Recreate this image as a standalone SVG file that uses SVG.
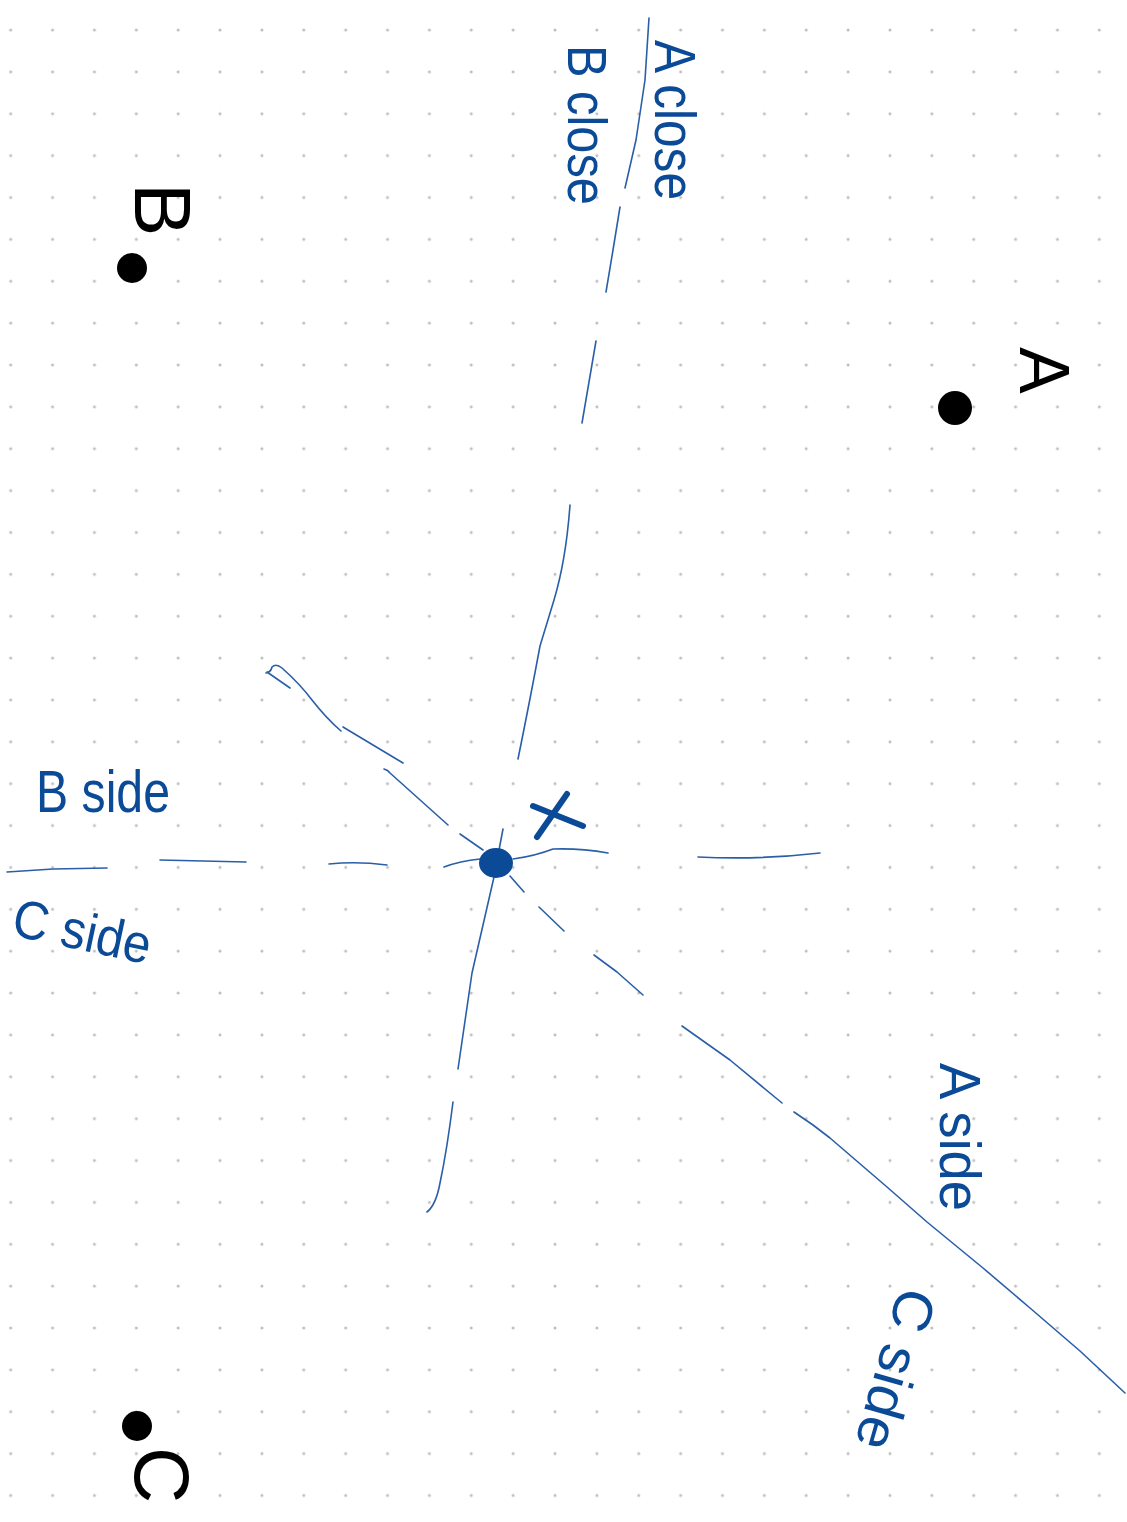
<svg xmlns="http://www.w3.org/2000/svg" width="1127" height="1522" viewBox="0 0 1127 1522">
<style>
.ln{fill:none;stroke:#2a5fa8;stroke-width:1.6;stroke-linecap:round;stroke-linejoin:round}
.bt{font-family:"Liberation Sans",Arial,sans-serif;fill:#0b4a97}
.kt{font-family:"Liberation Sans",Arial,sans-serif;fill:#000}
.mk{stroke:#0b4a97;stroke-width:6;stroke-linecap:round}
</style>
<defs>
<pattern id="grid" patternUnits="userSpaceOnUse" x="-10.235" y="9.065" width="41.87" height="41.87">
<circle cx="20.935" cy="20.935" r="1.5" fill="#bdbdbd"/>
</pattern>
</defs>
<rect width="1127" height="1522" fill="#fff"/>
<rect width="1127" height="1522" fill="url(#grid)"/>
<g id="connectors">
<path class="ln" d="M649,18 L645,80 L636,140 L625,188 M620,207 L613,250 L606,292 M596,341 L589,382 L582,423 M570,505 Q566,560 554,600 L540,646 Q530,700 518,759 M503,829 L499,850 M494,877 L472,973 L458,1069 M453,1102 Q447,1150 440,1183 Q436,1205 427,1212"/>
<path class="ln" d="M7,872 L53,869 L107,868 M160,860 L246,862 M329,864 Q357,861 387,865 M444,867 Q460,861 480,859 M513,859 Q535,856 553,849 Q580,848 608,853 M698,857 Q760,860 820,853"/>
<path class="ln" d="M290,688 L267,672 M266,673 Q271,672 272,667 Q276,663 282,668 Q300,684 312,700 Q326,718 341,731 M343,727 L403,763 M384,769 Q388,770 390,773 L448,825 M460,834 L483,850 M510,876 L524,892 M539,907 L564,931 M594,955 L617,972 L643,995 M682,1026 L730,1060 L782,1103 M794,1112 L813,1125 L830,1138 L887,1187 L927,1222 L983,1268 L1030,1308 L1080,1351 L1125,1393"/>
</g>
<g id="node-A">
<circle cx="955" cy="408" r="17" fill="#000"/>
<text class="kt" font-size="70" transform="translate(1020,347) rotate(90)">A</text>
</g>
<g id="node-B">
<circle cx="132" cy="268" r="15" fill="#000"/>
<text class="kt" font-size="80" transform="translate(135,183) rotate(90)">B</text>
</g>
<g id="node-C">
<circle cx="137" cy="1426" r="15" fill="#000"/>
<text class="kt" font-size="78" transform="translate(135,1447) rotate(90)">C</text>
</g>
<g id="node-center">
<ellipse cx="496" cy="863" rx="17" ry="15" fill="#0b4a97"/>
<line class="mk" x1="567" y1="794" x2="537" y2="837"/>
<line class="mk" x1="533" y1="806" x2="583" y2="826"/>
</g>
<g id="labels">
<text class="bt" font-size="58" textLength="160" lengthAdjust="spacingAndGlyphs" transform="translate(655,40) rotate(90)">A close</text>
<text class="bt" font-size="56" textLength="160" lengthAdjust="spacingAndGlyphs" transform="translate(568,45) rotate(90)">B close</text>
<text class="bt" font-size="60" textLength="134" lengthAdjust="spacingAndGlyphs" x="36" y="812">B side</text>
<text class="bt" font-size="54" textLength="140" lengthAdjust="spacingAndGlyphs" transform="translate(10,935) rotate(12)">C side</text>
<text class="bt" font-size="58" textLength="148" lengthAdjust="spacingAndGlyphs" transform="translate(940,1063) rotate(90)">A side</text>
<text class="bt" font-size="56" textLength="165" lengthAdjust="spacingAndGlyphs" transform="translate(900,1285) rotate(106)">C side</text>
</g>
</svg>
